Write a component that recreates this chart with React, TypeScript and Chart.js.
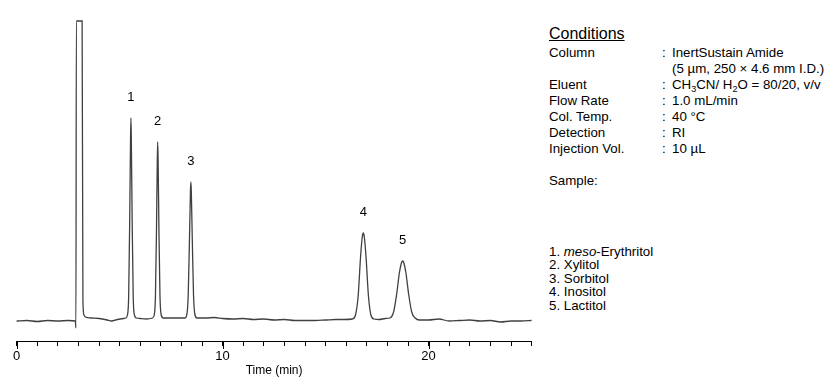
import React, { useEffect, useRef } from 'react';
import { Chart, registerables } from 'chart.js';

Chart.register(...registerables);

// Chromatogram trace (time in min, detector signal in arbitrary units; 300 = off-scale)
const timeMin = [
  0, 0.5, 1.0, 1.5, 2.0, 2.5, 2.85,
  2.88, 2.9, 3.18, 3.22, 3.27, 3.35, 3.6, 4.0, 4.4, 4.6, 4.9, 5.2,
  5.3, 5.38, 5.44, 5.49, 5.53, 5.55, 5.57, 5.61, 5.66, 5.72, 5.82,
  6.0, 6.3,
  6.6, 6.68, 6.74, 6.79, 6.83, 6.85, 6.87, 6.91, 6.96, 7.02, 7.12,
  7.5, 7.9,
  8.18, 8.26, 8.33, 8.39, 8.44, 8.46, 8.48, 8.53, 8.59, 8.66, 8.76,
  9.2, 9.6, 10.0, 10.5, 11.0, 11.5, 12.0, 12.5, 13.0, 13.5, 14.0, 14.5, 15.0, 15.5, 15.9,
  16.3, 16.45, 16.58, 16.7, 16.78, 16.83, 16.88, 16.96, 17.08, 17.2, 17.35,
  17.6, 17.9,
  18.12, 18.3, 18.45, 18.58, 18.68, 18.74, 18.8, 18.9, 19.03, 19.18, 19.35, 19.55,
  20.0, 20.5, 21.0, 21.5, 22.0, 22.5, 23.0, 23.5, 24.0, 24.5, 25.0,
];
const signal = [
  0, 0.5, -0.5, 0.5, 0, 0.5, 0,
  -7, 300, 300, 20, 6, 4, 3, 2.5, 1, 0, 1.5, 2.5,
  3, 6, 25, 100, 180, 203, 180, 100, 25, 6, 3,
  2.5, 2,
  3, 6, 25, 90, 160, 179, 160, 90, 25, 6, 3,
  3, 3,
  3, 6, 25, 80, 130, 139, 130, 80, 25, 6, 3,
  3, 3.5, 2.5, 2, 2.5, 1.5, 2, 1, 1.5, 0.5, 0.5, 0.5, 1, 1.5, 1.5,
  2, 6, 25, 65, 84, 88, 84, 65, 25, 6, 2,
  1.5, 2.5,
  3, 9, 27, 48, 58, 60, 58, 48, 27, 9, 3, 1,
  1, 2, 0, 0.5, 1, 0, 0.5, -1, 0, 0, 0.5,
];

const peakNumbers = ['1', '2', '3', '4', '5'];
const peakTimes = [5.55, 6.85, 8.46, 16.83, 18.74];
const peakHeights = [203, 179, 139, 88, 60];
const majorTicks = [0, 10, 20];

const conditionLabels = ['Column', '', 'Eluent', 'Flow Rate', 'Col. Temp.', 'Detection', 'Injection Vol.'];
const conditionValues = [
  'InertSustain Amide',
  '(5 µm, 250 × 4.6 mm I.D.)',
  'CH_3CN/ H_2O = 80/20, v/v',
  '1.0 mL/min',
  '40 °C',
  'RI',
  '10 µL',
];
const sampleNames = ['*meso*-Erythritol', 'Xylitol', 'Sorbitol', 'Inositol', 'Lactitol'];

const FONT = '"Liberation Sans", Arial, Helvetica, sans-serif';

function renderRich(text: string) {
  // _d -> subscript digit, *text* -> italic
  const parts: React.ReactNode[] = [];
  const re = /(_\d)|(\*[^*]+\*)/g;
  let last = 0;
  let m: RegExpExecArray | null;
  let k = 0;
  while ((m = re.exec(text)) !== null) {
    if (m.index > last) parts.push(text.slice(last, m.index));
    if (m[1]) parts.push(<sub key={k++} style={{ fontSize: '9px', verticalAlign: '-3px', lineHeight: 0 }}>{m[1].slice(1)}</sub>);
    else parts.push(<i key={k++}>{m[2].slice(1, -1)}</i>);
    last = m.index + m[0].length;
  }
  if (last < text.length) parts.push(text.slice(last));
  return parts;
}

const overlayPlugin = {
  id: 'overlay',
  afterDraw(chart: any) {
    const { ctx, scales, chartArea } = chart;
    const x = scales.x;
    const y = scales.y;
    ctx.save();
    ctx.font = `13px ${FONT}`;
    ctx.fillStyle = '#000';
    ctx.textAlign = 'center';
    ctx.textBaseline = 'middle';
    peakTimes.forEach((t, i) => {
      ctx.fillText(peakNumbers[i], x.getPixelForValue(t), y.getPixelForValue(peakHeights[i]) - 21);
    });
    ctx.strokeStyle = '#000';
    ctx.lineWidth = 1;
    majorTicks.forEach((v) => {
      const px = Math.round(x.getPixelForValue(v)) + 0.5;
      ctx.beginPath();
      ctx.moveTo(px, chartArea.bottom);
      ctx.lineTo(px, chartArea.bottom + 8);
      ctx.stroke();
    });
    ctx.restore();
  },
};

export default function App() {
  const canvasRef = useRef<HTMLCanvasElement | null>(null);

  useEffect(() => {
    if (!canvasRef.current) return;
    const chart = new Chart(canvasRef.current, {
      type: 'line',
      data: {
        datasets: [
          {
            data: timeMin.map((t, i) => ({ x: t, y: signal[i] })),
            borderColor: '#404040',
            borderWidth: 1.3,
            pointRadius: 0,
            cubicInterpolationMode: 'monotone',
            fill: false,
            clip: 4,
          } as any,
        ],
      },
      options: {
        animation: false,
        responsive: false,
        devicePixelRatio: 1,
        layout: { padding: { left: 16.6, right: 13.4, top: 21, bottom: 0 } },
        plugins: { legend: { display: false }, tooltip: { enabled: false } },
        scales: {
          x: {
            type: 'linear',
            min: 0,
            max: 25,
            afterFit: (scale: any) => {
              scale.height = 39;
            },
            border: { display: true, color: '#000', width: 1 },
            grid: { display: true, drawOnChartArea: false, drawTicks: true, tickLength: 5, color: '#000' },
            ticks: {
              stepSize: 1,
              autoSkip: false,
              maxRotation: 0,
              padding: 3,
              color: '#000',
              font: { family: FONT, size: 13 },
              callback: (v: any) => (Number(v) % 10 === 0 ? String(v) : ''),
            },
            title: {
              display: true,
              text: 'Time (min)',
              color: '#000',
              font: { family: FONT, size: 12 },
              padding: { top: 0, bottom: 2 },
            },
          },
          y: {
            type: 'linear',
            display: false,
            min: -20,
            max: 300,
          },
        },
      } as any,
      plugins: [overlayPlugin],
    });
    return () => chart.destroy();
  }, []);

  const rowTop = 44.5;
  const rowH = 16;
  const fs = 13.3;

  return (
    <div style={{ position: 'absolute', left: 0, top: 0, width: 837, height: 380, background: '#fff', fontFamily: FONT, color: '#000' }}>
      <canvas ref={canvasRef} width={545} height={380} style={{ position: 'absolute', left: 0, top: 0, display: 'block' }} />
      <div style={{ position: 'absolute', left: 549, top: 24, fontSize: 16, lineHeight: '19px', textDecoration: 'underline', whiteSpace: 'nowrap' }}>
        Conditions
      </div>
      {conditionLabels.map((lab, i) => (
        <React.Fragment key={i}>
          <div style={{ position: 'absolute', left: 549, top: rowTop + i * rowH, fontSize: fs, lineHeight: '16px', whiteSpace: 'nowrap' }}>{lab}</div>
          {lab !== '' && (
            <div style={{ position: 'absolute', left: 662, top: rowTop + i * rowH, fontSize: fs, lineHeight: '16px' }}>:</div>
          )}
          <div style={{ position: 'absolute', left: 672, top: rowTop + i * rowH, fontSize: fs, lineHeight: '16px', whiteSpace: 'nowrap' }}>
            {renderRich(conditionValues[i])}
          </div>
        </React.Fragment>
      ))}
      <div style={{ position: 'absolute', left: 549, top: rowTop + 8 * rowH, fontSize: fs, lineHeight: '16px', whiteSpace: 'nowrap' }}>Sample:</div>
      {sampleNames.map((s, i) => (
        <div key={i} style={{ position: 'absolute', left: 549, top: 244.5 + i * 13.5, fontSize: fs, lineHeight: '13.5px', whiteSpace: 'nowrap' }}>
          {`${i + 1}. `}
          {renderRich(s)}
        </div>
      ))}
    </div>
  );
}
